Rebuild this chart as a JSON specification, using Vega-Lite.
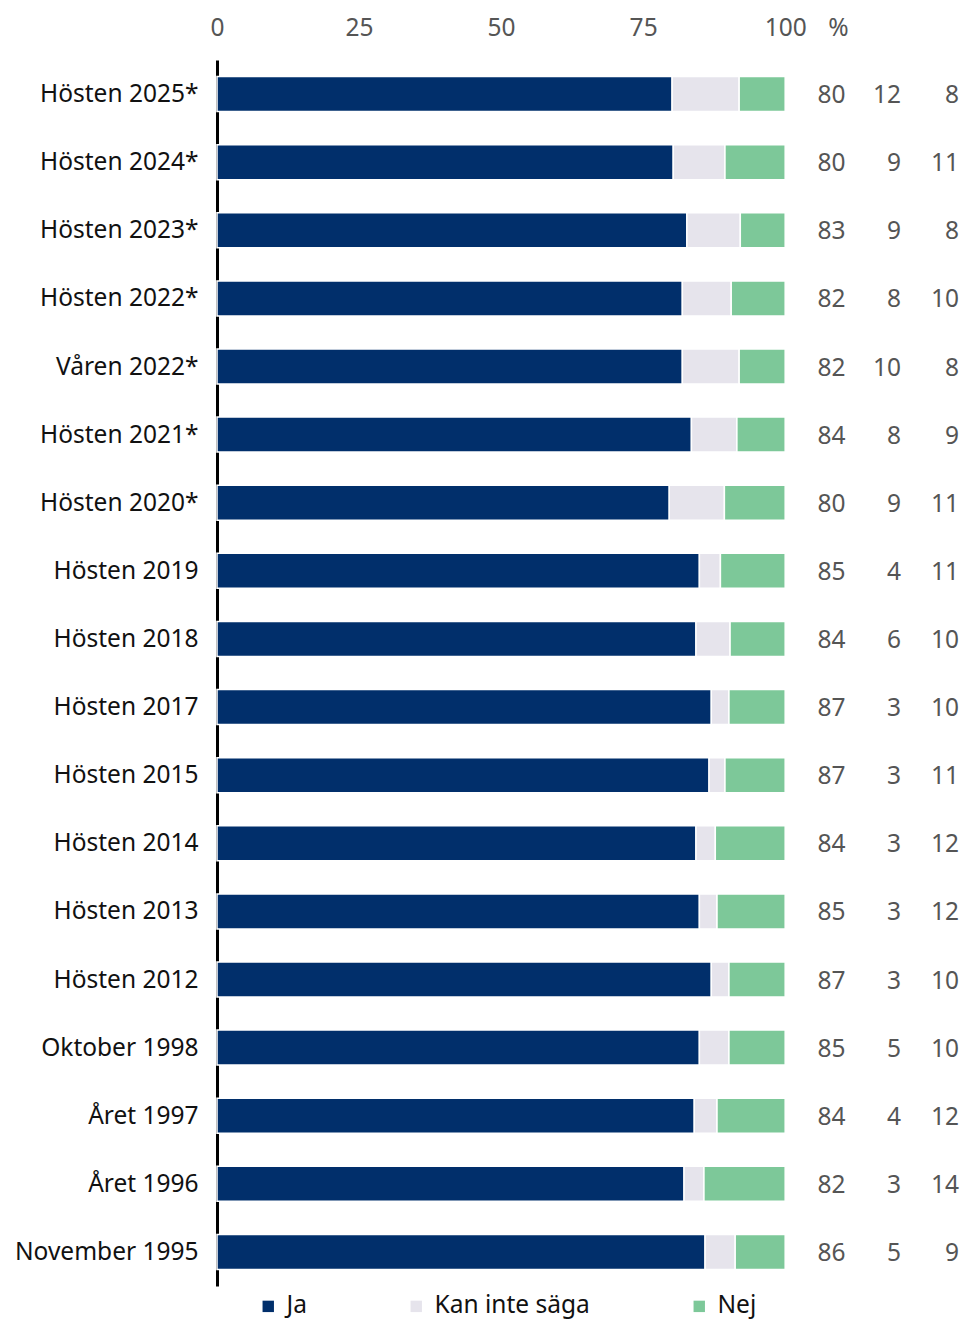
{
  "$schema": "https://vega.github.io/schema/vega-lite/v6.json",
  "autosize": {"type": "none"},
  "padding": {"left": 217, "top": 60, "right": 0, "bottom": 33},
  "width": 750,
  "height": 1226,
  "background": "white",
  "config": {
    "view": {"stroke": null},
    "font": "Noto Sans"
  },
  "data": {
    "values": [
      {"period": "Hösten 2025*", "Ja": 80.1, "Kan inte säga": 11.8, "Nej": 8.1, "ja_txt": 80, "kan_txt": 12, "nej_txt": 8},
      {"period": "Hösten 2024*", "Ja": 80.3, "Kan inte säga": 9.1, "Nej": 10.6, "ja_txt": 80, "kan_txt": 9, "nej_txt": 11},
      {"period": "Hösten 2023*", "Ja": 82.7, "Kan inte säga": 9.4, "Nej": 7.9, "ja_txt": 83, "kan_txt": 9, "nej_txt": 8},
      {"period": "Hösten 2022*", "Ja": 81.9, "Kan inte säga": 8.6, "Nej": 9.5, "ja_txt": 82, "kan_txt": 8, "nej_txt": 10},
      {"period": "Våren 2022*", "Ja": 81.9, "Kan inte säga": 10.0, "Nej": 8.1, "ja_txt": 82, "kan_txt": 10, "nej_txt": 8},
      {"period": "Hösten 2021*", "Ja": 83.5, "Kan inte säga": 8.0, "Nej": 8.5, "ja_txt": 84, "kan_txt": 8, "nej_txt": 9},
      {"period": "Hösten 2020*", "Ja": 79.6, "Kan inte säga": 9.7, "Nej": 10.7, "ja_txt": 80, "kan_txt": 9, "nej_txt": 11},
      {"period": "Hösten 2019", "Ja": 84.9, "Kan inte säga": 3.7, "Nej": 11.4, "ja_txt": 85, "kan_txt": 4, "nej_txt": 11},
      {"period": "Hösten 2018", "Ja": 84.3, "Kan inte säga": 6.0, "Nej": 9.7, "ja_txt": 84, "kan_txt": 6, "nej_txt": 10},
      {"period": "Hösten 2017", "Ja": 87.0, "Kan inte säga": 3.1, "Nej": 9.9, "ja_txt": 87, "kan_txt": 3, "nej_txt": 10},
      {"period": "Hösten 2015", "Ja": 86.6, "Kan inte säga": 2.8, "Nej": 10.6, "ja_txt": 87, "kan_txt": 3, "nej_txt": 11},
      {"period": "Hösten 2014", "Ja": 84.3, "Kan inte säga": 3.4, "Nej": 12.3, "ja_txt": 84, "kan_txt": 3, "nej_txt": 12},
      {"period": "Hösten 2013", "Ja": 84.9, "Kan inte säga": 3.1, "Nej": 12.0, "ja_txt": 85, "kan_txt": 3, "nej_txt": 12},
      {"period": "Hösten 2012", "Ja": 87.0, "Kan inte säga": 3.1, "Nej": 9.9, "ja_txt": 87, "kan_txt": 3, "nej_txt": 10},
      {"period": "Oktober 1998", "Ja": 84.9, "Kan inte säga": 5.2, "Nej": 9.9, "ja_txt": 85, "kan_txt": 5, "nej_txt": 10},
      {"period": "Året 1997", "Ja": 84.0, "Kan inte säga": 4.0, "Nej": 12.0, "ja_txt": 84, "kan_txt": 4, "nej_txt": 12},
      {"period": "Året 1996", "Ja": 82.2, "Kan inte säga": 3.5, "Nej": 14.3, "ja_txt": 82, "kan_txt": 3, "nej_txt": 14},
      {"period": "November 1995", "Ja": 85.9, "Kan inte säga": 5.3, "Nej": 8.8, "ja_txt": 86, "kan_txt": 5, "nej_txt": 9}
    ]
  },
  "encoding": {
    "y": {
      "field": "period",
      "type": "nominal",
      "sort": null,
      "scale": {"paddingInner": 0.486, "paddingOuter": 0.243},
      "axis": {
        "title": null,
        "ticks": false,
        "domainColor": "#000000",
        "domainWidth": 3,
        "labelFontSize": 24.5,
        "labelColor": "#111111",
        "labelPadding": 19,
        "labelLimit": 300,
        "labelBaseline": "middle",
        "labelOffset": 1
      }
    }
  },
  "layer": [
    {
      "transform": [
        {"fold": ["Ja", "Kan inte säga", "Nej"], "as": ["svar", "andel"]}
      ],
      "mark": {"type": "bar", "stroke": "white", "strokeWidth": 1.5},
      "encoding": {
        "x": {
          "field": "andel",
          "type": "quantitative",
          "stack": "zero",
          "scale": {"domain": [0, 132], "nice": false},
          "axis": {
            "orient": "top",
            "title": null,
            "values": [0, 25, 50, 75, 100, 109.3],
            "labelExpr": "datum.value > 105 ? '%' : datum.label",
            "ticks": false,
            "domain": false,
            "grid": false,
            "labelFontSize": 24.5,
            "labelColor": "#555555",
            "labelPadding": 20,
            "labelFlush": false
          }
        },
        "color": {
          "field": "svar",
          "type": "nominal",
          "scale": {
            "domain": ["Ja", "Kan inte säga", "Nej"],
            "range": ["#012F6B", "#E6E4EC", "#7DC899"]
          },
          "legend": {
            "orient": "none",
            "legendX": 39,
            "legendY": 1234,
            "direction": "horizontal",
            "title": null,
            "symbolType": "square",
            "symbolSize": 130,
            "symbolStrokeWidth": 0,
            "labelFontSize": 24.5,
            "labelColor": "#111111",
            "labelOffset": 6,
            "columnPadding": 97
          }
        }
      }
    },
    {
      "mark": {"type": "text", "align": "right", "baseline": "middle", "fontSize": 24.5, "color": "#555555", "dy": 2},
      "encoding": {"x": {"datum": 110.6, "type": "quantitative"}, "text": {"field": "ja_txt"}}
    },
    {
      "mark": {"type": "text", "align": "right", "baseline": "middle", "fontSize": 24.5, "color": "#555555", "dy": 2},
      "encoding": {"x": {"datum": 120.4, "type": "quantitative"}, "text": {"field": "kan_txt"}}
    },
    {
      "mark": {"type": "text", "align": "right", "baseline": "middle", "fontSize": 24.5, "color": "#555555", "dy": 2},
      "encoding": {"x": {"datum": 130.6, "type": "quantitative"}, "text": {"field": "nej_txt"}}
    }
  ]
}
